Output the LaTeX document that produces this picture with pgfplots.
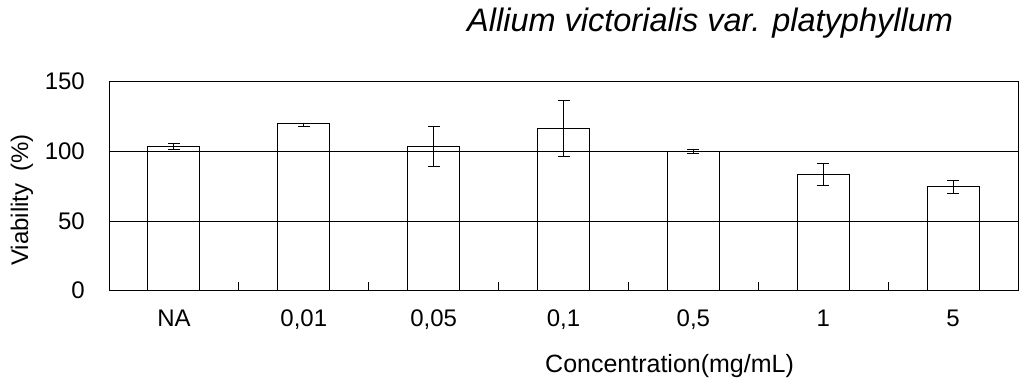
\documentclass[border=0pt]{standalone}
\usepackage{fontspec}
\setmainfont{Liberation Sans}
\usepackage{pgfplots}
\pgfplotsset{compat=1.18}
\begin{document}
\begin{tikzpicture}[x=1pt,y=1pt]
\path[use as bounding box] (0,0) rectangle (1022,382);
\begin{axis}[
  at={(109pt,91.3pt)}, anchor=south west,
  scale only axis, width=909pt, height=209pt,
  xmin=-0.5, xmax=6.5, ymin=0, ymax=150,
  xtick={0,...,6},
  xticklabels={NA,{0,01},{0,05},{0,1},{0,5},1,5},
  minor xtick={0.5,1.5,...,5.5},
  ytick={0,50,100,150},
  yticklabels={0,50,100,150},
  ymajorgrids,
  grid style={black, line width=1pt},
  major tick length=0pt,
  minor tick length=9pt,
  tick align=inside,
  tick pos=left,
  tick style={black, line width=1pt},
  axis line style={black, line width=1pt},
  xticklabel style={font=\fontsize{24}{28}\selectfont, anchor=base, inner sep=0pt, yshift=-36pt},
  yticklabel style={font=\fontsize{24}{28}\selectfont, anchor=east, inner sep=0pt, xshift=-24pt},
]
\addplot[ybar, bar width=52pt, draw=black, fill=none, line width=1pt,
  error bars/.cd, y dir=both, y explicit,
  error bar style={line width=1pt},
  error mark options={rotate=90, mark size=6pt, line width=1pt}]
  table[x=x, y=y, y error plus=ep, y error minus=em] {
x y ep em
0 103.5 2 2
1 120.2 0 2.6
2 103.5 14.2 14.5
3 116.3 20 20
4 100 1.5 1.5
5 83.5 7.8 8.3
6 74.8 4.2 4.8
};
\end{axis}
\node[anchor=base west, font=\fontsize{32.5}{37}\selectfont\itshape, inner sep=0pt] at (467,350) {Allium victorialis var. platyphyllum};
\node[anchor=base west, font=\fontsize{25}{30}\selectfont, inner sep=0pt] at (545,9) {Concentration(mg/mL)};
\node[rotate=90, anchor=center, font=\fontsize{24}{28}\selectfont, inner sep=0pt] at (22,182) {Viability\hspace{0.5em}(\%)};
\end{tikzpicture}
\end{document}
